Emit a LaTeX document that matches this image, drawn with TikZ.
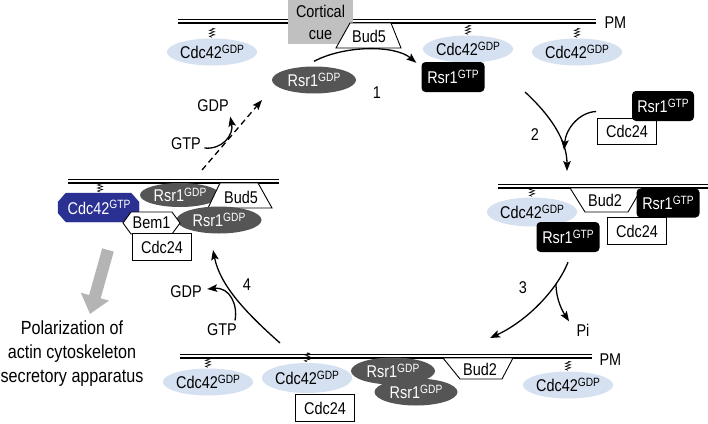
\documentclass[tikz,border=0pt]{standalone}
\usepackage{fontspec}
\setmainfont[FakeStretch=0.85]{Liberation Sans}
\usetikzlibrary{shapes.geometric,arrows.meta}

\definecolor{cuegray}{RGB}{192,192,192}
\definecolor{gdpblue}{RGB}{213,224,241}
\definecolor{rsrgray}{RGB}{85,85,85}
\definecolor{gtpnavy}{RGB}{43,49,146}
\definecolor{polgray}{RGB}{180,180,180}

\newcommand{\nuc}[1]{\raisebox{0.32em}{\fontsize{12}{12}\selectfont #1}}

\tikzset{
  cdcgdp/.style={ellipse,fill=gdpblue,minimum width=78pt,minimum height=27pt,inner sep=0pt},
  rsrgdp/.style={ellipse,fill=rsrgray,text=white,minimum width=84pt,minimum height=27pt,inner sep=0pt},
  rsrgtp/.style={rectangle,rounded corners=4pt,fill=black,text=white,minimum width=63pt,minimum height=29pt,inner sep=0pt},
  cdcbox/.style={rectangle,draw,fill=white,line width=0.9pt,minimum width=59pt,minimum height=27pt,inner sep=0pt},
  membrane/.style={double distance=2.4pt,line width=1.3pt},
  arr/.style={line width=1.3pt,-{Stealth[length=10pt,width=7.5pt,inset=2pt]}},
  spring/.pic={\draw[line width=0.6pt] (0,0) -- (-2.5,-1) -- (2.5,-2.5) -- (-2.5,-4) -- (2.5,-5.5) -- (-2.5,-7) -- (2.5,-8.5) -- (0,-9);}
}

\begin{document}
\begin{tikzpicture}[x=1pt,y=-1pt,font=\fontsize{17}{19}\selectfont]
\useasboundingbox (0,0) rectangle (708,423);

% top membrane with cortical cue
\begin{scope}
\draw[membrane] (178,21) -- (596,21) coordinate (pmT);
\node[anchor=west] (pmTlbl) at ([xshift=5pt,yshift=-2pt]pmT) {PM};
\node[fill=cuegray,minimum width=65pt,minimum height=44pt,inner sep=0pt,align=center,font=\fontsize{17}{22}\selectfont] (cue) at (320.5,22) {Cortical\\cue};
\draw[fill=white,line width=0.9pt] (350,23) -- (391,23) -- (401,48) -- (336,48) -- cycle;
\node (budT) at (369,36) {Bud5};

\node[cdcgdp] (cdcT1) at (212,52) {Cdc42\nuc{GDP}};
\node[cdcgdp] (cdcT2) at (468,49) {Cdc42\nuc{GDP}};
\node[cdcgdp] (cdcT3) at (577,52) {Cdc42\nuc{GDP}};
\foreach \c in {cdcT1,cdcT2,cdcT3}
  \pic at ([yshift=1pt]\c.north) {spring};

\node[rsrgdp] (rgdpA) at (314,80) {Rsr1\nuc{GDP}};
\node[rsrgtp,minimum height=30pt] (rgtpA) at (453,77) {Rsr1\nuc{GTP}};
\end{scope}

% right membrane with Bud2
\begin{scope}
\node[cdcbox,minimum height=26pt] (cdc24R1) at (627,131) {Cdc24};
\node[rsrgtp,minimum width=62pt,minimum height=30pt] (rgtpR1) at (663,106) {Rsr1\nuc{GTP}};

\draw[membrane] (498,186) -- (708,186);
\draw[fill=white,line width=0.9pt] (570,188) -- (642,188) -- (628,212) -- (585,212) -- cycle;
\node (budR) at (605,200) {Bud2};
\node[cdcbox] (cdc24R2) at (637,231) {Cdc24};
\node[rsrgtp] (rgtpR2) at (668,203) {Rsr1\nuc{GTP}};
\node[cdcgdp,minimum width=80pt,minimum height=29pt] (cdcR) at (532,212) {Cdc42\nuc{GDP}};
\pic at ([yshift=1pt]cdcR.north) {spring};
\node[rsrgtp,minimum height=30pt] (rgtpR3) at (568,237) {Rsr1\nuc{GTP}};
\end{scope}

% bottom membrane with Bud2
\begin{scope}
\draw[membrane] (180,356) -- (592,356) coordinate (pmB);
\node[anchor=west] (pmBlbl) at ([xshift=4pt,yshift=-4pt]pmB) {PM};
\node[cdcgdp] (cdcB1) at (208,382) {Cdc42\nuc{GDP}};
\node[cdcgdp,minimum height=30pt] (cdcB2) at (307,378) {Cdc42\nuc{GDP}};
\node[cdcgdp] (cdcB3) at (568,385) {Cdc42\nuc{GDP}};
\foreach \c in {cdcB1,cdcB2,cdcB3}
  \pic at ([yshift=1pt]\c.north) {spring};
\node[cdcbox] (cdc24B) at (325,408) {Cdc24};
\node[rsrgdp] (rgdpB1) at (393,371) {Rsr1\nuc{GDP}};
\node[rsrgdp,minimum width=83pt] (rgdpB2) at (416,392) {Rsr1\nuc{GDP}};
\draw[fill=white,line width=0.9pt] (443,358) -- (513,358) -- (502,379) -- (460,379) -- cycle;
\node (budB) at (480,369) {Bud2};
\end{scope}

% left membrane with polarity complex
\begin{scope}
\draw[membrane] (68,181) -- (279,181);
\draw[fill=gtpnavy,draw=gtpnavy] (66,193) -- (131,193) -- (139,202) -- (139,213) -- (131,222)
  -- (66,222) -- (58,213) -- (58,202) -- cycle;
\node[text=white] (cdcL) at (99,207.5) {Cdc42\nuc{GTP}};
\pic at (100,192) {spring};
\node[rsrgdp,minimum width=80pt,minimum height=24pt] (rgdpL1) at (180,195) {Rsr1\nuc{GDP}};
\draw[fill=white,line width=0.9pt] (220,183) -- (258,183) -- (272,208) -- (208,208) -- cycle;
\node (budL) at (241,197) {Bud5};
\node[rsrgdp,minimum width=85pt] (rgdpL2) at (219,220) {Rsr1\nuc{GDP}};
\draw[fill=white,line width=0.9pt] (123,223) -- (131,212) -- (172,212) -- (180,223) -- (172,234) -- (131,234) -- cycle;
\node (bem) at (151.5,223) {Bem1};
\node[cdcbox] (cdc24L) at (162,247) {Cdc24};
\end{scope}

% polarization output
\coordinate (g1) at (108,250);
\coordinate (g2) at (90,314);
\draw[line width=12pt,polgray,-{Triangle[length=18pt,width=28pt]}] (g1) -- (g2);
\node[align=center,font=\fontsize{19}{24}\selectfont] (pol) at (72,354) {Polarization of\\actin cytoskeleton\\secretory apparatus};

% step 1
\draw[arr] ([yshift=5pt]rgdpA.north) .. controls (345,45) and (395,45) .. ([xshift=-5pt,yshift=-1pt]rgtpA.north west);
\node (n1) at (377,93) {1};

% step 2
\coordinate (s2) at (525,92);
\coordinate (e2) at (567,171);
\coordinate (m2) at (564,150);
\draw[arr] (s2) .. controls (550,115) and (567,140) .. (e2);
\draw[arr] ([xshift=-1pt,yshift=6pt]cdc24R1.north west) .. controls (580,112) and (566,128) .. (m2);
\node (n2) at (535,135) {2};

% step 3
\coordinate (e3) at (490,338);
\coordinate (b3) at (556,284);
\node (pi) at (583,330) {Pi};
\draw[arr] ([yshift=-10pt]rgtpR3.south) .. controls (556,292) and (525,322) .. (e3);
\draw[arr] (b3) .. controls (556,300) and (563,312) .. ([xshift=-4pt,yshift=-1pt]pi.north west);
\node (n3) at (523,288) {3};

% step 4
\coordinate (s4) at (280,343);
\coordinate (e4) at (213,250);
\node (gtp4) at (222,330) {GTP};
\node (gdp4) at (186,292) {GDP};
\draw[arr] (s4) .. controls (245,312) and (220,285) .. (e4);
\draw[arr] ([xshift=13pt,yshift=0pt]gtp4.north) .. controls (238,305) and (230,287) .. ([xshift=2pt,yshift=3pt]gdp4.east);
\node (n4) at (247,285) {4};

% release from the old site
\coordinate (sd) at (202,170);
\coordinate (ed) at (262,100);
\node (gtpD) at (186,144) {GTP};
\node (gdpD) at (213,106) {GDP};
\draw[arr,dash pattern=on 6pt off 4pt] (sd) -- (ed);
\draw[arr] ([yshift=-4pt]gtpD.east) .. controls (222,150) and (234,135) .. ([xshift=-2pt,yshift=-1pt]gdpD.south east);

\end{tikzpicture}
\end{document}
